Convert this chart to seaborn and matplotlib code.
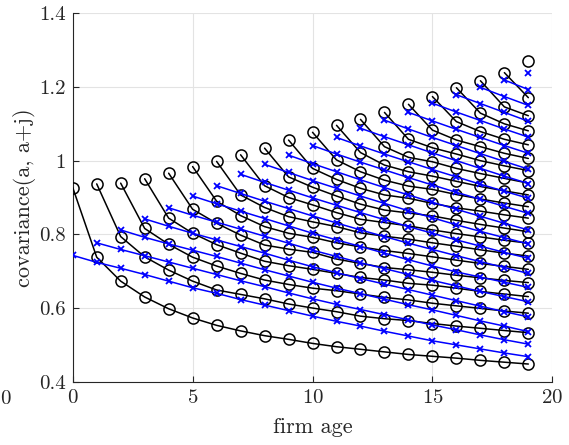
import numpy as np
import pandas as pd
import seaborn as sns
import matplotlib.pyplot as plt

# covariance(a, a+j) by start age a
# black circles = data, blue crosses = model; each list starts at firm age a
black_a0 = [0.927, 0.738, 0.673, 0.630, 0.598, 0.573, 0.553, 0.538, 0.525, 0.515,
            0.504, 0.495, 0.488, 0.481, 0.474, 0.469, 0.464, 0.458, 0.453, 0.448]
black_a1 = [0.937, 0.794, 0.739, 0.703, 0.673, 0.649, 0.637, 0.625, 0.611, 0.600,
            0.590, 0.578, 0.571, 0.566, 0.558, 0.551, 0.545, 0.539, 0.533]
black_a2 = [0.939, 0.816, 0.773, 0.738, 0.714, 0.694, 0.676, 0.664, 0.654, 0.647,
            0.638, 0.629, 0.622, 0.613, 0.606, 0.599, 0.592, 0.586]
black_a3 = [0.951, 0.844, 0.803, 0.772, 0.749, 0.727, 0.715, 0.705, 0.694, 0.683,
            0.676, 0.667, 0.662, 0.654, 0.645, 0.638, 0.631]
black_a4 = [0.966, 0.868, 0.830, 0.798, 0.771, 0.760, 0.751, 0.733, 0.721, 0.710,
            0.704, 0.697, 0.689, 0.682, 0.675, 0.669]
black_a5 = [0.984, 0.890, 0.851, 0.821, 0.803, 0.792, 0.777, 0.766, 0.756, 0.748,
            0.739, 0.730, 0.721, 0.713, 0.705]
black_a6 = [0.998, 0.907, 0.873, 0.848, 0.834, 0.821, 0.804, 0.795, 0.787, 0.777,
            0.768, 0.758, 0.749, 0.741]
black_a7 = [1.016, 0.932, 0.900, 0.880, 0.859, 0.841, 0.832, 0.823, 0.812, 0.802,
            0.793, 0.784, 0.776]
black_a8 = [1.034, 0.956, 0.928, 0.904, 0.882, 0.866, 0.858, 0.850, 0.838, 0.827,
            0.817, 0.807]
black_a9 = [1.056, 0.979, 0.949, 0.925, 0.907, 0.898, 0.884, 0.872, 0.863, 0.853, 0.844]
black_a10 = [1.077, 1.002, 0.970, 0.947, 0.931, 0.922, 0.908, 0.896, 0.885, 0.875]
black_a11 = [1.096, 1.022, 0.988, 0.970, 0.958, 0.944, 0.930, 0.918, 0.907]
black_a12 = [1.112, 1.038, 1.009, 0.997, 0.979, 0.965, 0.952, 0.939]
black_a13 = [1.131, 1.058, 1.035, 1.018, 1.000, 0.986, 0.973]
black_a14 = [1.153, 1.083, 1.056, 1.038, 1.020, 1.006]
black_a15 = [1.174, 1.106, 1.079, 1.058, 1.043]
black_a16 = [1.198, 1.129, 1.100, 1.081]
black_a17 = [1.217, 1.146, 1.122]
black_a18 = [1.239, 1.171]
black_a19 = [1.271]

blue_a0 = [0.743, 0.724, 0.708, 0.691, 0.673, 0.655, 0.640, 0.623, 0.608, 0.593,
           0.578, 0.564, 0.551, 0.537, 0.524, 0.511, 0.500, 0.489, 0.478, 0.468]
blue_a1 = [0.777, 0.759, 0.742, 0.725, 0.708, 0.691, 0.674, 0.658, 0.641, 0.625,
           0.610, 0.596, 0.582, 0.568, 0.554, 0.541, 0.527, 0.514, 0.502]
blue_a2 = [0.812, 0.792, 0.774, 0.757, 0.740, 0.722, 0.704, 0.687, 0.670, 0.654,
           0.639, 0.624, 0.609, 0.595, 0.580, 0.565, 0.551, 0.536]
blue_a3 = [0.842, 0.822, 0.803, 0.785, 0.767, 0.749, 0.730, 0.712, 0.696, 0.680,
           0.665, 0.650, 0.635, 0.620, 0.605, 0.590, 0.576]
blue_a4 = [0.872, 0.852, 0.833, 0.814, 0.795, 0.776, 0.757, 0.740, 0.723, 0.707,
           0.691, 0.675, 0.660, 0.645, 0.631, 0.617]
blue_a5 = [0.904, 0.883, 0.863, 0.843, 0.823, 0.803, 0.785, 0.767, 0.749, 0.731,
           0.714, 0.698, 0.684, 0.670, 0.656]
blue_a6 = [0.932, 0.911, 0.890, 0.870, 0.850, 0.831, 0.812, 0.794, 0.776, 0.759,
           0.742, 0.726, 0.710, 0.694]
blue_a7 = [0.963, 0.941, 0.920, 0.899, 0.879, 0.859, 0.840, 0.821, 0.803, 0.785,
           0.768, 0.751, 0.735]
blue_a8 = [0.990, 0.968, 0.946, 0.925, 0.904, 0.884, 0.864, 0.845, 0.826, 0.808,
           0.791, 0.774]
blue_a9 = [1.015, 0.992, 0.970, 0.948, 0.927, 0.907, 0.887, 0.868, 0.849, 0.830, 0.812]
blue_a10 = [1.041, 1.018, 0.996, 0.975, 0.954, 0.934, 0.914, 0.895, 0.876, 0.857]
blue_a11 = [1.063, 1.040, 1.018, 0.997, 0.976, 0.956, 0.936, 0.917, 0.898]
blue_a12 = [1.088, 1.065, 1.043, 1.021, 1.000, 0.979, 0.958, 0.938]
blue_a13 = [1.110, 1.086, 1.063, 1.041, 1.019, 0.998, 0.977]
blue_a14 = [1.131, 1.108, 1.085, 1.063, 1.041, 1.020]
blue_a15 = [1.156, 1.132, 1.109, 1.086, 1.064]
blue_a16 = [1.179, 1.155, 1.131, 1.107]
blue_a17 = [1.199, 1.174, 1.150]
blue_a18 = [1.219, 1.193]
blue_a19 = [1.237]

x_ticks = [0, 5, 10, 15, 20]
y_ticks = [0.4, 0.6, 0.8, 1.0, 1.2, 1.4]
y_tick_labels = ["0.4", "0.6", "0.8", "1", "1.2", "1.4"]

black_rows = [black_a0, black_a1, black_a2, black_a3, black_a4, black_a5, black_a6,
              black_a7, black_a8, black_a9, black_a10, black_a11, black_a12,
              black_a13, black_a14, black_a15, black_a16, black_a17, black_a18,
              black_a19]
blue_rows = [blue_a0, blue_a1, blue_a2, blue_a3, blue_a4, blue_a5, blue_a6,
             blue_a7, blue_a8, blue_a9, blue_a10, blue_a11, blue_a12, blue_a13,
             blue_a14, blue_a15, blue_a16, blue_a17, blue_a18, blue_a19]


def to_long(rows):
    recs = []
    for a, row in enumerate(rows):
        for j, v in enumerate(row):
            recs.append({"start": a, "age": a + j, "cov": v})
    return pd.DataFrame(recs)


black_df = to_long(black_rows)
blue_df = to_long(blue_rows)

sns.set_theme(style="white")
plt.rcParams["font.family"] = ["cmr10", "DejaVu Serif"]
plt.rcParams["axes.formatter.use_mathtext"] = True

dark = "#262626"
fig = plt.figure(figsize=(5.69, 4.45), dpi=100)
ax = fig.add_axes([0.1278, 0.1422, 0.8429, 0.8279])

sns.lineplot(data=black_df, x="age", y="cov", units="start", estimator=None,
             color="black", lw=1.1, marker="o", markersize=8,
             markerfacecolor="none", markeredgecolor="black",
             markeredgewidth=1.1, ax=ax, zorder=3)
sns.lineplot(data=blue_df, x="age", y="cov", units="start", estimator=None,
             color="blue", lw=1.1, marker="x", markersize=4.8,
             markeredgecolor="blue", markeredgewidth=1.3, ax=ax, zorder=4)

ax.set_xlim(0, 20)
ax.set_ylim(0.4, 1.4)
ax.set_xticks(x_ticks)
ax.set_yticks(y_ticks)
ax.set_yticklabels(y_tick_labels)
ax.grid(True, color="#e3e3e3", lw=0.8)
ax.set_axisbelow(True)
for s in ["top", "right"]:
    ax.spines[s].set_visible(False)
for s in ["left", "bottom"]:
    ax.spines[s].set_color(dark)
    ax.spines[s].set_linewidth(0.8)
ax.tick_params(direction="in", length=4, width=0.8, color=dark,
               labelcolor=dark, labelsize=15, pad=5)
ax.tick_params(axis="both", which="both", bottom=True, left=True)

ax.set_xlabel("firm age", fontsize=16, color=dark)
ax.set_ylabel("covariance(a, a+j)", fontsize=16, color=dark)
ax.xaxis.set_label_coords(0.5, -0.123)
ax.xaxis.label.set_va("center")
ax.yaxis.set_label_coords(-0.0995, 0.5)
ax.yaxis.label.set_va("center")

# stray tick label left over at the far left of the original
fig.text(5 / 569, 1 - 399 / 445, "0", ha="center", va="center",
         fontsize=15, color=dark)

fig.savefig("out.png", dpi=100)
